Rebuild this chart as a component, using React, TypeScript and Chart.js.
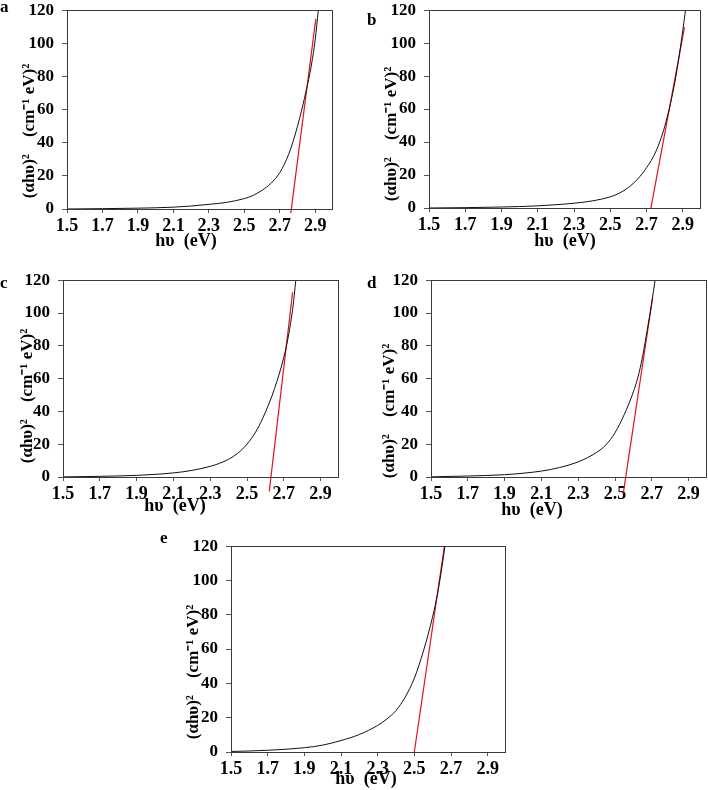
import React, { useEffect, useRef } from 'react';
import { Chart, registerables } from 'chart.js';

Chart.register(...registerables);

// ---------- data ----------
const xTicks = [1.5, 1.7, 1.9, 2.1, 2.3, 2.5, 2.7, 2.9];
const yTicks = [0, 20, 40, 60, 80, 100, 120];
const xTitle = 'h\u03c5  (eV)';
const yTitle = '(\u03b1h\u03c5)\u00b2    (cm\u207b\u00b9 eV)\u00b2';

const aCurveX = [1.5, 1.7, 1.9, 2.1, 2.2, 2.3, 2.4, 2.5, 2.55, 2.6, 2.65, 2.7, 2.75, 2.8, 2.85, 2.875, 2.9, 2.917];
const aCurveY = [0, 0.2, 0.5, 1.1, 1.8, 2.8, 4.0, 6.3, 8.2, 11.3, 15.5, 22, 33, 50, 72, 85, 102.5, 120];
const aFitX = [2.762, 2.903];
const aFitY = [-2.5, 114.8];

const bCurveX = [1.5, 1.7, 1.9, 2.1, 2.2, 2.3, 2.4, 2.5, 2.55, 2.6, 2.65, 2.7, 2.75, 2.8, 2.85, 2.875, 2.9, 2.914];
const bCurveY = [0, 0.2, 0.6, 1.3, 2.0, 2.9, 4.3, 6.8, 9.0, 12.5, 17.5, 24.5, 34, 49.5, 73, 89, 108, 119.6];
const bFitX = [2.723, 2.909];
const bFitY = [-0.5, 109.7];

const cCurveX = [1.5, 1.7, 1.9, 2.0, 2.1, 2.2, 2.3, 2.35, 2.4, 2.45, 2.5, 2.55, 2.6, 2.65, 2.7, 2.725, 2.75, 2.765];
const cCurveY = [0.05, 0.4, 1.0, 1.6, 2.5, 4.0, 6.5, 8.3, 10.8, 14.5, 20, 28, 39.5, 54, 73, 86, 104, 119.6];
const cFitX = [2.621, 2.748];
const cFitY = [-8.8, 112.7];

const dCurveX = [1.5, 1.7, 1.9, 2.0, 2.1, 2.2, 2.3, 2.35, 2.4, 2.45, 2.5, 2.55, 2.6, 2.625, 2.65, 2.675, 2.7, 2.718];
const dCurveY = [0.1, 0.6, 1.4, 2.3, 3.6, 5.8, 9.2, 11.8, 15, 19.5, 27, 38, 52, 61, 73.5, 89.5, 106.5, 120];
const dFitX = [2.545, 2.704];
const dFitY = [-10, 109];

const eCurveX = [1.5, 1.7, 1.9, 2.0, 2.1, 2.2, 2.3, 2.35, 2.4, 2.45, 2.5, 2.55, 2.6, 2.625, 2.645, 2.667];
const eCurveY = [0.3, 1.0, 2.5, 4.0, 6.7, 10.2, 15.5, 19.2, 24.2, 32, 43, 59, 79, 91.5, 104, 120];
const eFitX = [2.5, 2.664];
const eFitY = [0, 120];

// ---------- layout (page pixel coordinates) ----------
type Panel = {
  letter: string;
  cx: number; cy: number; cw: number; ch: number;
  pl: number; pt: number; pr: number; pb: number;
  lx: number; ly: number;
  ytx: number; yty: number;
  xtx: number; xty: number;
  curveX: number[]; curveY: number[]; fitX: number[]; fitY: number[];
};

const panels: Panel[] = [
  { letter: 'a', cx: 0, cy: -8, cw: 354, ch: 260, pl: 67, pt: 6, pr: 333, pb: 209,
    lx: 0, ly: 12, ytx: 30, yty: 131, xtx: 186, xty: 246,
    curveX: aCurveX, curveY: aCurveY, fitX: aFitX, fitY: aFitY },
  { letter: 'b', cx: 354, cy: -8, cw: 354, ch: 260, pl: 429, pt: 6, pr: 701, pb: 208,
    lx: 367, ly: 25, ytx: 392, yty: 134, xtx: 565, xty: 246,
    curveX: bCurveX, curveY: bCurveY, fitX: bFitX, fitY: bFitY },
  { letter: 'c', cx: 0, cy: 262, cw: 354, ch: 258, pl: 63, pt: 276, pr: 339, pb: 477,
    lx: 0, ly: 288, ytx: 28, yty: 396, xtx: 175, xty: 511,
    curveX: cCurveX, curveY: cCurveY, fitX: cFitX, fitY: cFitY },
  { letter: 'd', cx: 354, cy: 262, cw: 366, ch: 258, pl: 431, pt: 276, pr: 707, pb: 477,
    lx: 367, ly: 288, ytx: 390, yty: 411, xtx: 532, xty: 515,
    curveX: dCurveX, curveY: dCurveY, fitX: dFitX, fitY: dFitY },
  { letter: 'e', cx: 150, cy: 528, cw: 370, ch: 262, pl: 231, pt: 542, pr: 506, pb: 752,
    lx: 160, ly: 543, ytx: 194, yty: 672, xtx: 366, xty: 784,
    curveX: eCurveX, curveY: eCurveY, fitX: eFitX, fitY: eFitY },
];

const FAMILY = "'Liberation Serif', 'Times New Roman', Times, serif";

function PanelChart({ p }: { p: Panel }) {
  const ref = useRef<HTMLCanvasElement | null>(null);
  useEffect(() => {
    if (!ref.current) return;
    const decor = {
      id: 'decor' + p.letter,
      afterDraw(chart: any) {
        const ctx = chart.ctx;
        const ca = chart.chartArea;
        ctx.save();
        ctx.strokeStyle = '#3a3a3a';
        ctx.lineWidth = 1;
        ctx.strokeRect(Math.round(ca.left) + 0.5, Math.round(ca.top) + 0.5,
          Math.round(ca.right - ca.left) - 1, Math.round(ca.bottom - ca.top));
        ctx.fillStyle = '#000';
        ctx.font = `bold 17px ${FAMILY}`;
        ctx.textAlign = 'left';
        ctx.textBaseline = 'alphabetic';
        ctx.fillText(p.letter, p.lx - p.cx, p.ly - p.cy);
        ctx.font = `bold 18px ${FAMILY}`;
        ctx.textAlign = 'center';
        ctx.fillText(xTitle, p.xtx - p.cx, p.xty - p.cy);
        ctx.translate(p.ytx - p.cx, p.yty - p.cy);
        ctx.rotate(-Math.PI / 2);
        ctx.font = `bold 17px ${FAMILY}`;
        ctx.textBaseline = 'middle';
        ctx.fillText(yTitle, 0, 0);
        ctx.restore();
      },
    };
    const chart = new Chart(ref.current, {
      type: 'scatter',
      data: {
        datasets: [
          {
            data: p.curveX.map((x, i) => ({ x, y: p.curveY[i] })),
            showLine: true,
            borderColor: '#111',
            borderWidth: 1,
            pointRadius: 0,
            cubicInterpolationMode: 'monotone',
          },
          {
            data: p.fitX.map((x, i) => ({ x, y: p.fitY[i] })),
            showLine: true,
            borderColor: '#e0141e',
            borderWidth: 1.2,
            pointRadius: 0,
            clip: false,
          },
        ],
      } as any,
      options: {
        responsive: false,
        animation: false,
        devicePixelRatio: 1,
        events: [],
        layout: { padding: { left: 0, top: p.pt - p.cy, right: p.cx + p.cw - p.pr, bottom: 0 } },
        plugins: { legend: { display: false }, tooltip: { enabled: false } },
        scales: {
          x: {
            type: 'linear',
            min: 1.5,
            max: 3.0,
            afterBuildTicks: (s: any) => { s.ticks = xTicks.map((v) => ({ value: v })); },
            afterFit: (s: any) => { s.height = p.cy + p.ch - p.pb; },
            grid: { drawOnChartArea: false, drawTicks: true, tickLength: 4, color: '#555' },
            border: { display: false },
            ticks: {
              autoSkip: false, maxRotation: 0, padding: 3, color: '#000',
              font: { family: FAMILY, size: 18, weight: 'bold' },
              callback: (v: any) => Number(v).toFixed(1),
            },
          },
          y: {
            type: 'linear',
            min: 0,
            max: 120,
            afterBuildTicks: (s: any) => { s.ticks = yTicks.map((v) => ({ value: v })); },
            afterFit: (s: any) => { s.width = p.pl - p.cx; },
            grid: { drawOnChartArea: false, drawTicks: true, tickLength: 5, color: '#555' },
            border: { display: false },
            ticks: {
              autoSkip: false, padding: 8, color: '#000',
              font: { family: FAMILY, size: 17, weight: 'bold' },
              callback: (v: any) => String(v),
            },
          },
        },
      } as any,
      plugins: [decor],
    });
    return () => chart.destroy();
  }, [p]);
  return (
    <canvas
      ref={ref}
      width={p.cw}
      height={p.ch}
      style={{ position: 'absolute', left: p.cx, top: p.cy, width: p.cw, height: p.ch }}
    />
  );
}

export default function App() {
  return (
    <div style={{ position: 'absolute', left: 0, top: 0, width: 708, height: 790, overflow: 'hidden', background: '#fff' }}>
      {panels.map((p) => (
        <PanelChart key={p.letter} p={p} />
      ))}
    </div>
  );
}
